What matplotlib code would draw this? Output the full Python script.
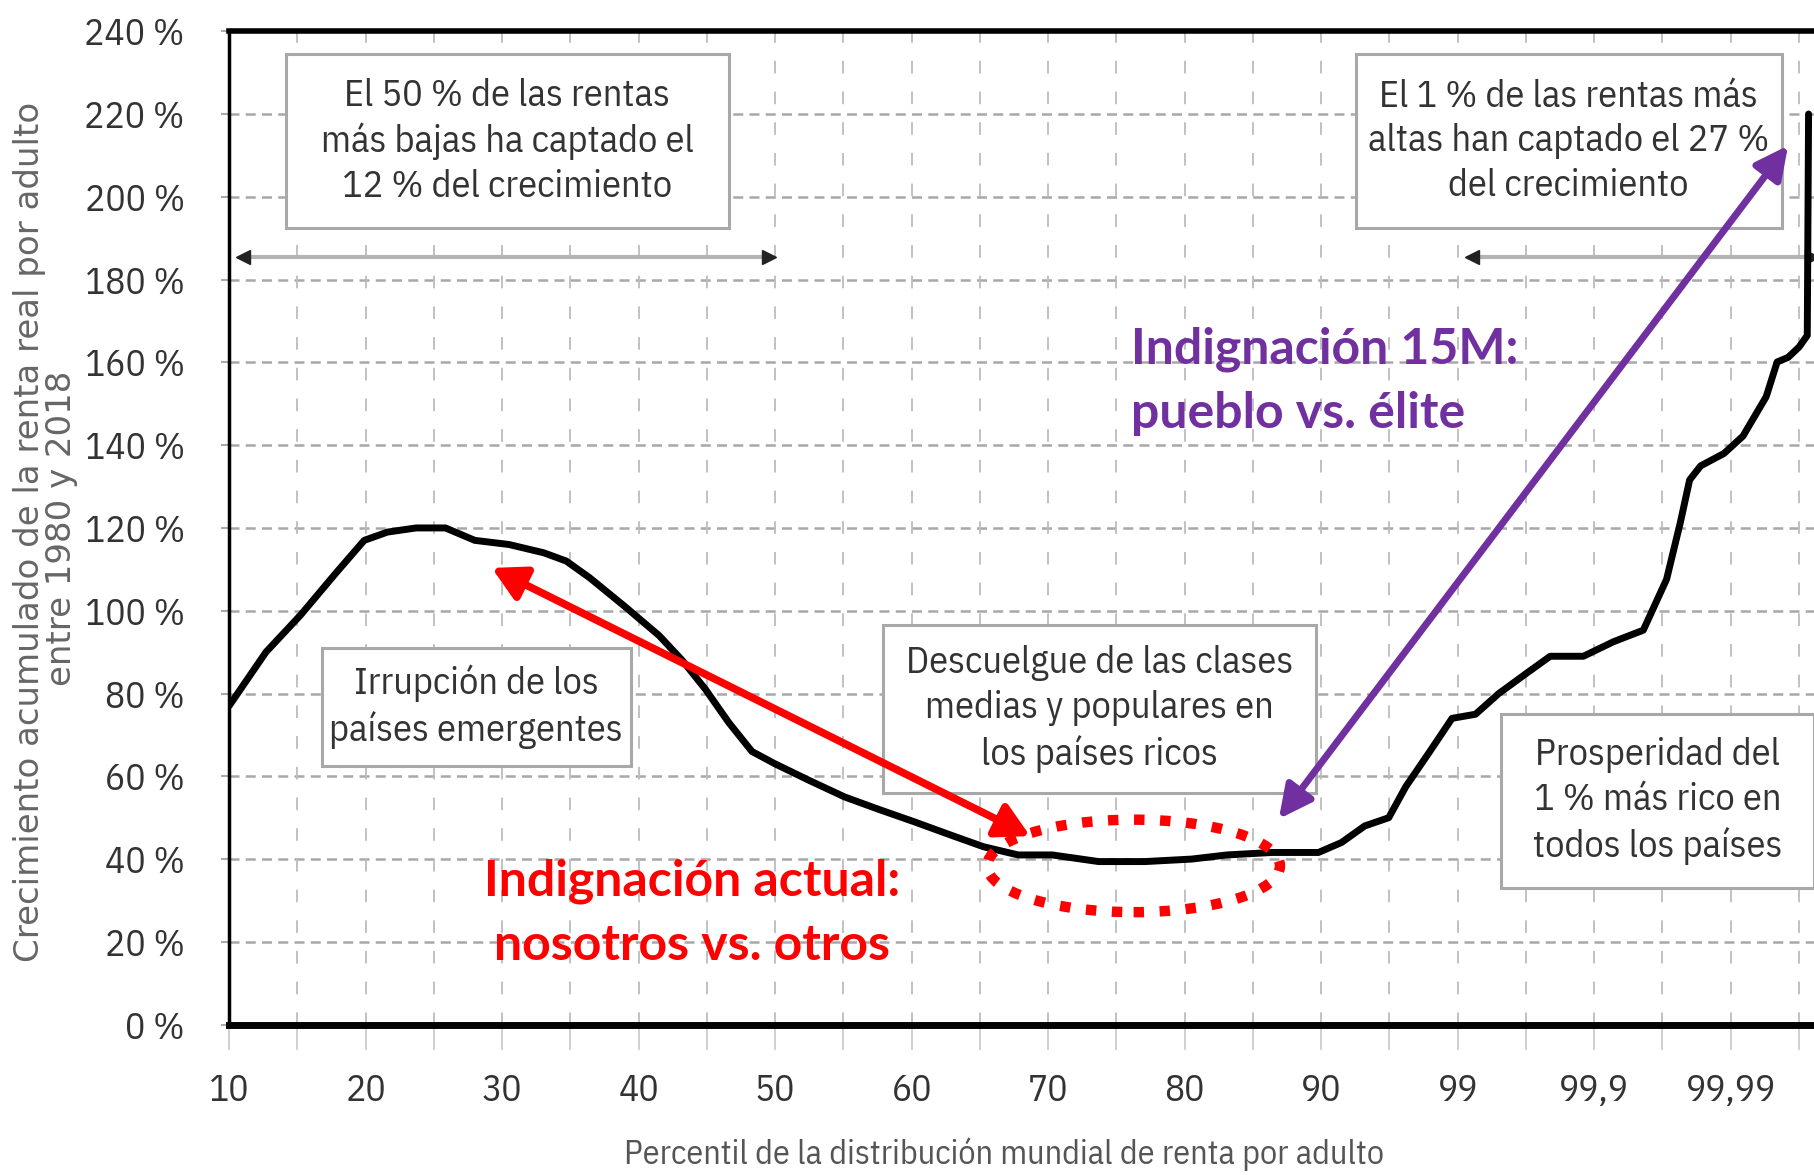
import numpy as np
import matplotlib.pyplot as plt
from matplotlib.patches import Rectangle, Ellipse, FancyArrowPatch

# curva del elefante
percentil = [10, 12.7, 15.25, 17.8, 19.9, 21.6, 23.7, 25.85, 28.0, 30.5,
             33.05, 34.7, 36.4, 39.0, 41.5, 43.2, 44.9, 46.6, 48.3, 50.0,
             52.5, 55.1, 57.6, 60.2, 62.7, 65.25, 67.8, 70.3, 73.7, 77.1,
             80.5, 83.1, 86.4, 89.8, 92.9, 95.2, 96.8, 97.6, 98.4, 98.9,
             99.26, 99.5, 99.69, 99.79, 99.88, 99.9276, 99.9563, 99.9705,
             99.9766, 99.98, 99.9834, 99.9888, 99.99187, 99.9945, 99.99543,
             99.9962, 99.99684, 99.99725, 99.99731]
crecimiento = [77, 90, 99, 109, 117, 119, 120, 120, 117, 116,
               114, 112, 108, 101, 94, 88, 81, 73, 66, 63,
               59, 55, 52, 49, 46, 43, 41, 41, 39.4, 39.4,
               40, 41, 41.6, 41.6, 44, 48, 50, 57.5, 66, 74,
               75, 80, 85, 89, 89, 92.5, 95.3, 107.6,
               121.3, 131.6, 135, 138, 142.2, 151.7, 160.1,
               161.2, 163.7, 166.5, 220]

xticks = [10, 20, 30, 40, 50, 60, 70, 80, 90, 99, 99.9, 99.99]
xtick_labels = ['10', '20', '30', '40', '50', '60', '70', '80', '90',
                '99', '99,9', '99,99']
yticks = list(range(0, 241, 20))
ytick_labels = [f'{v} %' for v in yticks]

NARROW = ['IBM Plex Sans Condensed', 'DejaVu Sans']
BOLD = ['Lato', 'DejaVu Sans']
PURPLE = '#7030A0'
RED = '#FF0000'


# percentile axis: linear up to 90, then one step per extra "9"
def fwd(p):
    p = np.asarray(p, dtype=float)
    top = 8 + np.log10(10 / np.clip(100 - p, 1e-9, None))
    return np.where(p <= 90, (p - 10) / 10, top)


def inv(x):
    x = np.asarray(x, dtype=float)
    return np.where(x <= 8, 10 + 10 * x, 100 - 10 ** (9 - x))


fig = plt.figure(figsize=(18.14, 11.75), dpi=100)
ax = fig.add_axes([0.12628, 0.12795, 0.87372, 0.84547])
ax.set_xscale('function', functions=(fwd, inv))
ax.set_xlim(10, float(inv(11.61)))
ax.set_ylim(0, 240)

ax.plot(percentil, crecimiento, color='black', lw=5, solid_joinstyle='round',
        solid_capstyle='round', zorder=5)

# grid
minor_x = inv(np.arange(0.5, 11.6, 1.0))
ax.set_xticks(xticks)
ax.set_xticks(minor_x, minor=True)
ax.set_xticklabels(xtick_labels, family=NARROW, fontsize=27, color='#333333')
ax.set_yticks(yticks)
ax.set_yticklabels(ytick_labels, family=NARROW, fontsize=27, color='#333333')
ax.tick_params(axis='x', which='both', direction='out', length=18, width=1.2,
               color='#c8c8c8', pad=17)
ax.tick_params(axis='y', direction='out', length=6, width=1.5,
               color='#aaaaaa', pad=26)
for v in yticks[1:-1]:
    ax.axhline(v, color='#a8a8a8', lw=1.8, dashes=(4, 2.5), zorder=1)
for v in list(xticks[1:]) + list(minor_x):
    ax.axvline(v, color='#bcbcbc', lw=1.3, dashes=(7, 10), zorder=1)

ax.spines['right'].set_visible(False)
ax.spines['top'].set_linewidth(4)
ax.spines['bottom'].set_linewidth(5)
ax.spines['left'].set_linewidth(2.5)

ax.set_xlabel('Percentil de la distribución mundial de renta por adulto',
              family=NARROW, fontsize=24.5, color='#555555')
ax.xaxis.set_label_coords(0.489, -0.114)

fig.text(0.0162, 0.547, 'Crecimiento acumulado de la renta real por adulto',
         rotation=90, ha='center', va='center', fontsize=24.5, color='#666666')
fig.text(0.0340, 0.55, 'entre 1980 y 2018', rotation=90, ha='center',
         va='center', fontsize=24.5, color='#666666')

# text boxes (axes fraction)
boxes = [
    ((0.0358, 0.8021), 0.2795, 0.1746,
     'El 50 % de las rentas\nmás bajas ha captado el\n12 % del crecimiento'),
    ((0.7109, 0.8021), 0.2687, 0.1746,
     'El 1 % de las rentas más\naltas han captado el 27 %\ndel crecimiento'),
    ((0.0584, 0.2608), 0.1949, 0.1187,
     'Irrupción de los\npaíses emergentes'),
    ((0.4124, 0.2328), 0.2737, 0.1700,
     'Descuelgue de las clases\nmedias y populares en\nlos países ricos'),
    ((0.8022, 0.1374), 0.1978, 0.1758,
     'Prosperidad del\n1 % más rico en\ntodos los países'),
]
for (x0, y0), w, h, txt in boxes:
    ax.add_patch(Rectangle((x0, y0), w, h, transform=ax.transAxes,
                           facecolor='white', edgecolor='#a8a8a8', lw=2.2,
                           zorder=3))
    ax.text(x0 + w / 2, y0 + h / 2, txt, transform=ax.transAxes,
            ha='center', va='center', family=NARROW, fontsize=27.5,
            color='#333333', linespacing=1.3, zorder=4)

# gray range arrows
for xa, xb in [(0.0088, 0.3409), (0.784, 0.9985)]:
    ax.plot([xa, xb], [0.773, 0.773], transform=ax.transAxes,
            color='#b4b4b4', lw=3, zorder=3, clip_on=False)
    ax.plot([xa], [0.773], marker='<', ms=10, color='#222222',
            transform=ax.transAxes, zorder=4, clip_on=False)
    ax.plot([xb], [0.773], marker='>', ms=10, color='#222222',
            transform=ax.transAxes, zorder=4, clip_on=False)

# purple annotation
ax.add_patch(FancyArrowPatch((0.6613, 0.2049), (0.9847, 0.8871),
                             transform=ax.transAxes,
                             arrowstyle='<|-|>,head_length=1.1,head_width=0.55',
                             mutation_scale=18, color=PURPLE, lw=5,
                             zorder=6))
ax.text(0.569, 0.6475, 'Indignación 15M:\npueblo vs. élite',
        transform=ax.transAxes, ha='left', va='center', family=BOLD,
        fontweight='bold', fontsize=36, color=PURPLE, linespacing=1.5,
        zorder=6)

# red annotation
ax.add_patch(FancyArrowPatch((0.1642, 0.461), (0.507, 0.1886),
                             transform=ax.transAxes,
                             arrowstyle='<|-|>,head_length=1.1,head_width=0.6',
                             mutation_scale=18, color=RED, lw=5.5,
                             zorder=6))
ax.add_patch(Ellipse((0.5707, 0.1598), 0.1847, 0.0931,
                     transform=ax.transAxes, fill=False, edgecolor=RED,
                     lw=7.5, linestyle=(0, (1, 1.5)), zorder=6))
ax.text(0.2920, 0.112, 'Indignación actual:\nnosotros vs. otros',
        transform=ax.transAxes, ha='center', va='center', family=BOLD,
        fontweight='bold', fontsize=36, color=RED, linespacing=1.5,
        zorder=6)

fig.savefig('out.png', dpi=100, facecolor='white')
